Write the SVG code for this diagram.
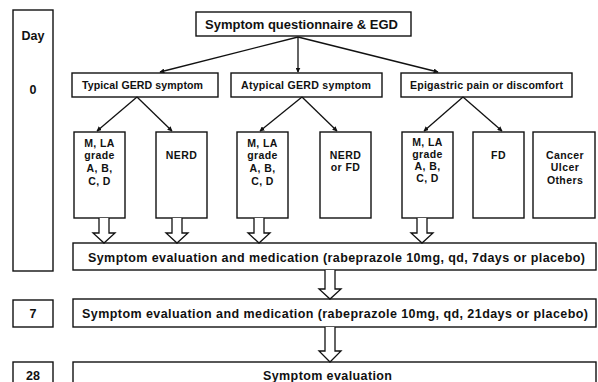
<svg xmlns="http://www.w3.org/2000/svg" width="598" height="382" viewBox="0 0 598 382">
<style>
.b{fill:#fff;stroke:#111;stroke-width:1.4}
.t{font-family:"Liberation Sans",Arial,sans-serif;font-weight:bold;fill:#111;text-anchor:middle}
.s13{font-size:13px}.s12{font-size:12.5px}.s10{font-size:10.6px}.s9{font-size:10.5px;letter-spacing:0.4px}
.ln{stroke:#111;stroke-width:1.3;fill:none}
.ha{fill:#fff;stroke:#111;stroke-width:1.3}
</style>
<defs>
<marker id="ah" viewBox="0 0 8 8" refX="7" refY="4" markerWidth="5" markerHeight="5" orient="auto" markerUnits="userSpaceOnUse"><path d="M0,0L8,4L0,8z" fill="#111"/></marker>
</defs>
<rect width="598" height="382" fill="#fff"/>
<g id="day0"><rect class="b" x="13" y="10" width="40" height="261"/><text class="t s12" x="33" y="40">Day</text><text class="t s12" x="33" y="94">0</text></g>
<g id="day7"><rect class="b" x="13" y="300" width="40" height="27"/><text class="t s12" x="33" y="318">7</text></g>
<g id="day28"><rect class="b" x="13" y="362" width="40" height="30"/><text class="t s12" x="33" y="380">28</text></g>
<g id="top"><rect class="b" x="196" y="12" width="215" height="24"/><text class="t s13" x="301.5" y="28.5" textLength="193">Symptom questionnaire &amp; EGD</text></g>
<g id="typical"><rect class="b" x="72" y="73" width="146" height="24"/><text class="t s10" x="142.5" y="88.5" textLength="121">Typical GERD symptom</text></g>
<g id="atypical"><rect class="b" x="231" y="73" width="151" height="24"/><text class="t s10" x="306" y="88.5" textLength="130">Atypical GERD symptom</text></g>
<g id="epigastric"><rect class="b" x="401" y="73" width="171" height="24"/><text class="t s10" x="486.5" y="88.5" textLength="153">Epigastric pain or discomfort</text></g>
<g id="b1"><rect class="b" x="74" y="132" width="51" height="86"/><text class="t s9"><tspan x="99.5" y="147">M, LA</tspan><tspan x="99.5" y="159">grade</tspan><tspan x="99.5" y="172">A, B,</tspan><tspan x="99.5" y="185">C, D</tspan></text></g>
<g id="b2"><rect class="b" x="156" y="132" width="51" height="86"/><text class="t s9" x="181.5" y="159">NERD</text></g>
<g id="b3"><rect class="b" x="237" y="132" width="51" height="86"/><text class="t s9"><tspan x="262.5" y="147">M, LA</tspan><tspan x="262.5" y="159">grade</tspan><tspan x="262.5" y="172">A, B,</tspan><tspan x="262.5" y="185">C, D</tspan></text></g>
<g id="b4"><rect class="b" x="320" y="132" width="51" height="86"/><text class="t s9"><tspan x="345.5" y="159">NERD</tspan><tspan x="345.5" y="171">or FD</tspan></text></g>
<g id="b5"><rect class="b" x="402" y="132" width="51" height="86"/><text class="t s9"><tspan x="427.5" y="146">M, LA</tspan><tspan x="427.5" y="158">grade</tspan><tspan x="427.5" y="170">A, B,</tspan><tspan x="427.5" y="182">C, D</tspan></text></g>
<g id="b6"><rect class="b" x="473" y="132" width="51" height="86"/><text class="t s9" x="498.5" y="159">FD</text></g>
<g id="b7"><rect class="b" x="533" y="132" width="62" height="86"/><text class="t s9"><tspan x="565" y="159">Cancer</tspan><tspan x="565" y="171">Ulcer</tspan><tspan x="565" y="184">Others</tspan></text></g>
<g id="rowA"><rect class="b" x="73" y="243" width="523" height="27"/><text class="t s12" x="336.5" y="261.5" textLength="497">Symptom evaluation and medication (rabeprazole 10mg, qd, 7days or placebo)</text></g>
<g id="rowB"><rect class="b" x="73" y="299" width="523" height="28"/><text class="t s12" x="335" y="318" textLength="506">Symptom evaluation and medication (rabeprazole 10mg, qd, 21days or placebo)</text></g>
<g id="rowC"><rect class="b" x="73" y="362" width="523" height="30"/><text class="t s12" x="327.5" y="380" textLength="129">Symptom evaluation</text></g>
<g id="connectors">
<path class="ln" marker-end="url(#ah)" d="M298,37L160,72"/>
<path class="ln" marker-end="url(#ah)" d="M298,37L298,72"/>
<path class="ln" marker-end="url(#ah)" d="M298,37L438,72"/>
<path class="ln" marker-end="url(#ah)" d="M137,97L97,131"/>
<path class="ln" marker-end="url(#ah)" d="M137,97L172,131"/>
<path class="ln" marker-end="url(#ah)" d="M302,97L260,131"/>
<path class="ln" marker-end="url(#ah)" d="M302,97L337,131"/>
<path class="ln" marker-end="url(#ah)" d="M463,97L424,131"/>
<path class="ln" marker-end="url(#ah)" d="M463,97L502,131"/>
<path class="ha" d="M99,218V233H93L104,243L115,233H109V218"/>
<path class="ha" d="M172,218V233H166L177,243L188,233H182V218"/>
<path class="ha" d="M254,218V233H248L259,243L270,233H264V218"/>
<path class="ha" d="M417,218V233H411L422,243L433,233H427V218"/>
<path class="ha" d="M325,270V289H319L330,299L341,289H335V270"/>
<path class="ha" d="M325,327V351H319L330,362L341,351H335V327"/>
</g>
</svg>
